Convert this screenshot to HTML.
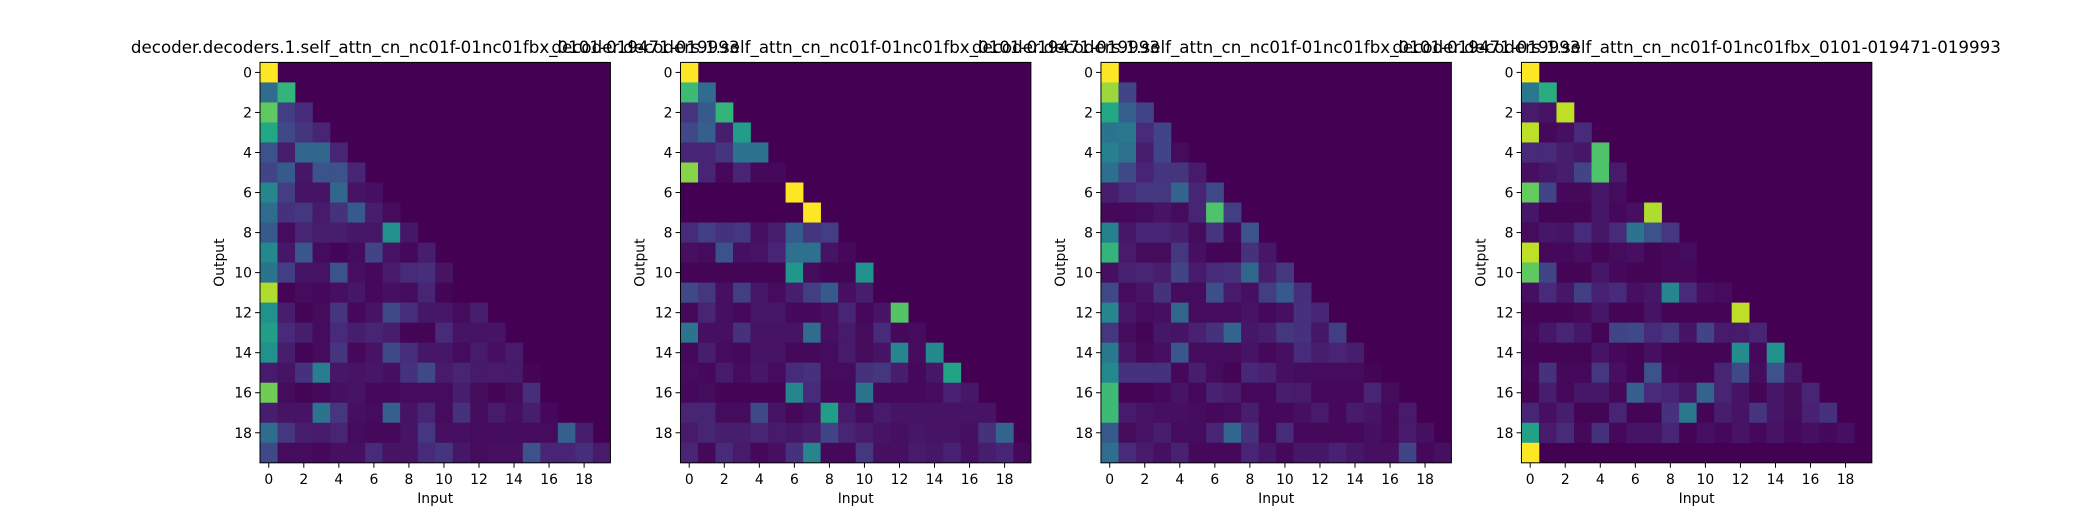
<!DOCTYPE html>
<html><head><meta charset="utf-8"><style>
html,body{margin:0;padding:0;background:#fff;}
svg{display:block;font-family:"DejaVu Sans","Liberation Sans",sans-serif;}
</style></head><body>
<svg id="fig" width="2080" height="520" viewBox="0 0 2080 520" xmlns="http://www.w3.org/2000/svg"></svg>
<script>
const titles = [
"decoder.decoders.1.self_attn_cn_nc01f-01nc01fbx_0101-019471-019993",
"decoder.decoders.1.self_attn_cn_nc01f-01nc01fbx_0101-019471-019993",
"decoder.decoders.1.self_attn_cn_nc01f-01nc01fbx_0101-019471-019993",
"decoder.decoders.1.self_attn_cn_nc01f-01nc01fbx_0101-019471-019993"];
const xTickLabels = [0,2,4,6,8,10,12,14,16,18];
const yTickLabels = [0,2,4,6,8,10,12,14,16,18];
const panel1 = [
[1],[0.35,0.65],[0.75,0.18,0.12],[0.6,0.22,0.15,0.1],[0.25,0.08,0.33,0.33,0.1],
[0.2,0.28,0.06,0.25,0.25,0.1],[0.45,0.18,0.05,0.05,0.33,0.05,0.04],
[0.35,0.14,0.16,0.07,0.14,0.28,0.08,0.03],[0.28,0.03,0.1,0.08,0.08,0.06,0.06,0.5,0.06],
[0.47,0.06,0.27,0.03,0.01,0.03,0.2,0.05,0.02,0.08],
[0.38,0.18,0.05,0.05,0.25,0.04,0.02,0.07,0.12,0.13,0.05],
[0.88,0.01,0.03,0.02,0.04,0.06,0.02,0.04,0.03,0.1,0.01,0],
[0.5,0.08,0.01,0.03,0.15,0.02,0.05,0.22,0.13,0.06,0.06,0.03,0.08],
[0.55,0.12,0.08,0.03,0.12,0.08,0.1,0.08,0.01,0.01,0.12,0.05,0.05,0.05],
[0.5,0.08,0.01,0.03,0.15,0.02,0.05,0.22,0.13,0.06,0.06,0.03,0.07,0.04,0.07],
[0.07,0.05,0.14,0.42,0.06,0.05,0.06,0.04,0.14,0.22,0.07,0.1,0.07,0.07,0.07,0.01],
[0.78,0.03,0.01,0.02,0.04,0.05,0.02,0.02,0.03,0.03,0.03,0.08,0.03,0.01,0.03,0.13,0],
[0.08,0.05,0.05,0.38,0.16,0.04,0.03,0.3,0.05,0.1,0.03,0.14,0.03,0.07,0.04,0.08,0.02,0],
[0.35,0.16,0.08,0.07,0.1,0.03,0.02,0.02,0.05,0.16,0.04,0.04,0.03,0.03,0.03,0.03,0.03,0.3,0.08],
[0.22,0.03,0.03,0.02,0.04,0.04,0.12,0.05,0.05,0.12,0.15,0.06,0.03,0.04,0.04,0.25,0.1,0.1,0.13,0.07]];
const panel2 = [
[1],[0.68,0.35],[0.15,0.28,0.65],[0.22,0.3,0.08,0.55],[0.1,0.1,0.15,0.38,0.38],
[0.82,0.1,0.02,0.1,0.02,0.02],[0,0,0,0,0,0,1],[0,0,0,0,0,0,0,1],
[0.12,0.18,0.14,0.16,0.04,0.08,0.28,0.15,0.18],
[0.04,0.03,0.25,0.04,0.05,0.1,0.37,0.37,0.05,0.02],
[0.01,0.01,0.01,0.01,0.01,0.01,0.52,0.03,0.01,0.01,0.5],
[0.22,0.16,0.04,0.18,0.06,0.03,0.08,0.18,0.28,0.04,0.08,0],
[0.02,0.1,0.04,0.02,0.06,0.06,0.02,0.02,0.04,0.1,0.02,0.05,0.73],
[0.38,0.04,0.04,0.14,0.05,0.05,0.05,0.35,0.04,0.07,0.03,0.12,0.02,0.03],
[0.02,0.08,0.03,0.02,0.05,0.05,0.02,0.02,0.03,0.07,0.03,0.05,0.45,0.03,0.47],
[0.03,0.02,0.07,0.03,0.06,0.03,0.12,0.14,0.03,0.03,0.14,0.16,0.08,0.02,0.06,0.58],
[0.02,0.03,0.01,0.01,0.01,0.01,0.45,0.12,0.02,0.02,0.38,0.02,0.02,0.02,0.03,0.09,0.06],
[0.1,0.1,0.03,0.03,0.22,0.05,0.02,0.04,0.55,0.07,0.03,0.07,0.05,0.05,0.05,0.05,0.05,0.05],
[0.07,0.1,0.08,0.08,0.1,0.07,0.06,0.08,0.2,0.1,0.07,0.05,0.04,0.06,0.05,0.05,0.04,0.14,0.32],
[0.1,0.02,0.12,0.07,0.02,0.04,0.14,0.45,0.02,0.02,0.16,0.04,0.04,0.07,0.06,0.09,0.04,0.08,0.1,0.02]];
const panel3 = [
[1],[0.85,0.2],[0.6,0.3,0.2],[0.38,0.4,0.12,0.2],[0.43,0.37,0.08,0.2,0.03],
[0.36,0.22,0.1,0.15,0.15,0.07],[0.08,0.12,0.16,0.16,0.32,0.1,0.22],
[0.02,0.02,0.03,0.05,0.03,0.1,0.72,0.18],
[0.43,0.06,0.1,0.1,0.08,0.03,0.15,0.02,0.25],
[0.65,0.07,0.03,0.03,0.16,0.04,0.01,0.01,0.14,0.06],
[0.04,0.09,0.1,0.08,0.2,0.07,0.12,0.14,0.33,0.08,0.16],
[0.22,0.03,0.05,0.14,0.03,0.03,0.24,0.07,0.04,0.18,0.28,0.13],
[0.45,0.06,0.03,0.04,0.33,0.03,0.03,0.03,0.05,0.02,0.04,0.14,0.1],
[0.16,0.03,0.01,0.06,0.05,0.09,0.14,0.32,0.06,0.08,0.16,0.14,0.06,0.18],
[0.4,0.06,0.02,0.04,0.27,0.03,0.03,0.03,0.05,0.02,0.04,0.12,0.08,0.1,0.08],
[0.47,0.14,0.14,0.14,0.02,0.08,0.03,0.01,0.11,0.09,0.04,0.03,0.03,0.03,0.03,0.01],
[0.68,0.01,0.01,0.02,0.05,0.02,0.09,0.07,0.02,0.02,0.08,0.07,0.02,0.02,0.02,0.1,0.03],
[0.68,0.07,0.05,0.04,0.04,0.03,0.02,0.03,0.08,0.02,0.02,0.04,0.07,0.02,0.07,0.05,0.02,0.07],
[0.28,0.03,0.05,0.08,0.03,0.03,0.1,0.33,0.14,0.02,0.12,0.02,0.02,0.02,0.02,0.04,0.02,0.07,0.04],
[0.36,0.12,0.07,0.04,0.09,0.02,0.02,0.02,0.1,0.06,0.02,0.06,0.06,0.09,0.06,0.04,0.04,0.2,0.02,0.04]];
const panel4 = [
[1],[0.4,0.62],[0.07,0.05,0.9],[0.9,0.02,0.04,0.12],[0.12,0.12,0.08,0.06,0.72],
[0.04,0.06,0.08,0.2,0.72,0.07],[0.76,0.2,0.02,0.02,0.06,0.03,0],
[0.06,0.01,0.01,0.01,0.06,0.02,0.04,0.88],
[0.03,0.06,0.05,0.12,0.06,0.12,0.38,0.25,0.16],
[0.9,0.02,0.02,0.04,0.01,0.03,0.04,0.01,0.02,0.03],
[0.75,0.2,0.01,0.01,0.06,0.02,0.01,0.01,0.02,0.02,0],
[0.04,0.12,0.06,0.18,0.09,0.12,0.04,0.06,0.45,0.12,0.04,0.03],
[0.01,0.01,0.01,0.02,0.06,0.01,0.01,0.05,0.01,0.01,0.01,0.01,0.9],
[0.02,0.06,0.1,0.06,0.01,0.2,0.22,0.12,0.16,0.05,0.2,0.07,0.07,0.1],
[0.01,0.01,0.01,0.01,0.05,0.02,0.01,0.04,0.01,0.01,0.01,0.01,0.48,0.02,0.5],
[0.02,0.14,0.02,0.02,0.16,0.04,0.01,0.25,0.02,0.01,0.01,0.1,0.22,0.03,0.25,0.07],
[0.01,0.08,0.02,0.06,0.06,0.02,0.3,0.12,0.1,0.06,0.32,0.1,0.05,0.01,0.06,0.03,0.1],
[0.1,0.04,0.08,0.01,0.01,0.1,0.01,0.01,0.14,0.4,0.01,0.08,0.05,0.15,0.06,0.03,0.09,0.14],
[0.57,0.07,0.12,0.02,0.14,0.02,0.05,0.05,0.1,0.01,0.04,0.02,0.05,0.02,0.05,0.02,0.04,0.02,0.04],
[1]];
const panels = [panel1, panel2, panel3, panel4];

const VIR = [[68,1,84],[72,36,117],[65,68,135],[53,95,141],[42,120,142],[33,145,140],[34,168,132],[68,191,112],[122,209,81],[189,223,38],[253,231,37]];
function viridis(t){t=Math.max(0,Math.min(1,t));const p=t*10,i=Math.min(9,Math.floor(p)),f=p-i;
 const a=VIR[i],b=VIR[i+1];return `rgb(${a.map((v,k)=>Math.round(v+(b[k]-v)*f)).join(',')})`;}
const NS='http://www.w3.org/2000/svg';
const svg=document.getElementById('fig');
function mk(tag,attrs,parent){const e=document.createElementNS(NS,tag);for(const k in attrs)e.setAttribute(k,attrs[k]);(parent||svg).appendChild(e);return e;}
const N=20, AX_W=350.4, AX_H=400.4, TOP=62.4, GAP=70.08, LEFT=260;
panels.forEach((data,p)=>{
 const x0=LEFT+p*(AX_W+GAP);
 const cw=AX_W/N, ch=AX_H/N;
 const xs=i=>x0+i*cw, ys=j=>TOP+j*ch;
 const g=mk('g',{});
 
 
 mk('rect',{x:x0,y:TOP,width:AX_W,height:AX_H,fill:viridis(0)},g);
 data.forEach((row,r)=>{row.forEach((v,c)=>{
  const cell=mk('rect',{x:xs(c),y:ys(r),width:cw+0.3,height:ch+0.3,fill:viridis(v)},g);
  
  
 });});
 mk('rect',{x:x0,y:TOP,width:AX_W,height:AX_H,fill:'none',stroke:'#000','stroke-width':1},g);
 xTickLabels.forEach(t=>{const cx=xs(t+0.5);
  mk('line',{x1:cx,x2:cx,y1:TOP+AX_H,y2:TOP+AX_H+4.9,stroke:'#000','stroke-width':1},g);
  const tx=mk('text',{x:cx,y:TOP+AX_H+21,'font-size':13.9,'text-anchor':'middle'},g);tx.textContent=t;
  
  
 });
 yTickLabels.forEach(t=>{const cy=ys(t+0.5);
  mk('line',{x1:x0-4.9,x2:x0,y1:cy,y2:cy,stroke:'#000','stroke-width':1},g);
  const tx=mk('text',{x:x0-8,y:cy+5,'font-size':13.9,'text-anchor':'end'},g);tx.textContent=t;
  
  
 });
 const xl=mk('text',{x:x0+AX_W/2,y:503,'font-size':13.9,'text-anchor':'middle'},g);xl.textContent='Input';
 
 
 const yl=mk('text',{x:0,y:0,'font-size':13.9,'text-anchor':'middle',transform:`translate(${x0-36},${TOP+AX_H/2}) rotate(-90)`},g);yl.textContent='Output';
 
 
 const tt=mk('text',{x:x0+AX_W/2,y:53,'font-size':16.7,'text-anchor':'middle'},g);tt.textContent=titles[p];
 
 
});
</script>
</body></html>
